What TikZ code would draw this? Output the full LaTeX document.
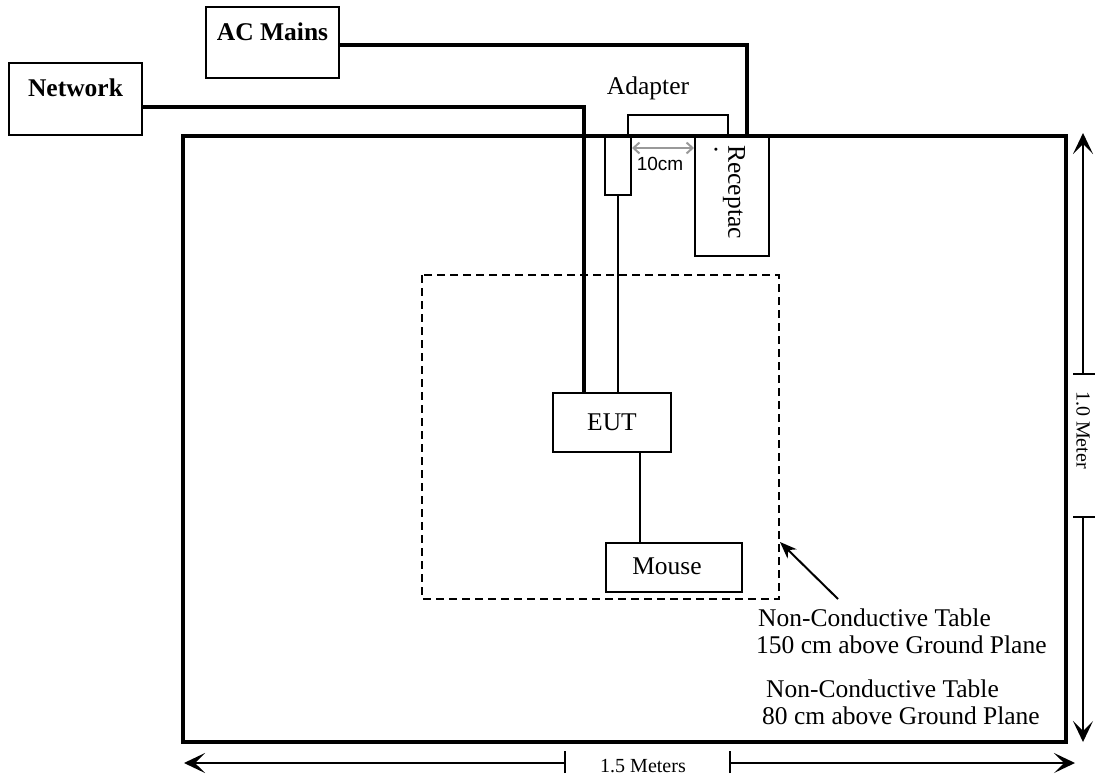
\documentclass[tikz,border=0pt]{standalone}
\usepackage{fontspec}
\setmainfont{Liberation Serif}
\newfontfamily\arialf{Liberation Sans}
\usetikzlibrary{arrows.meta}
\begin{document}
\begin{tikzpicture}[x=1pt,y=-1pt,
  every node/.style={font=\fontsize{25.5}{27}\selectfont},
  topbox/.style={draw,line width=2.6pt,inner sep=0pt,font=\fontsize{25.5}{28}\selectfont\bfseries},
  devbox/.style={draw,line width=2pt,inner sep=0pt},
  thickwire/.style={line width=3.4pt},
  thinwire/.style={line width=1.8pt},
  dimline/.style={line width=1.3pt},
  dimtip/.style={-{Stealth[length=21pt,width=20pt,inset=10pt]}},
  smalltxt/.style={font=\fontsize{20}{22}\selectfont}]
\useasboundingbox (0,0) rectangle (1097,781);
% table
\draw[line width=3.6pt] (183,136) rectangle (1066,742);
% top boxes
\node[topbox,minimum width=133pt,text height=33.5pt,text depth=38.5pt] (network) at (75.5,99) {Network};
\node[topbox,minimum width=133pt,text height=34pt,text depth=37pt] (acmains) at (272.5,42.5) {AC Mains};
% adapter
\node (adapterlbl) at (648,88) {Adapter};
\coordinate (adl) at (628,136);
\coordinate (adr) at (728,136);
\draw[line width=2pt] (adl) |- (728,115) -- (adr);
\node[devbox,minimum width=26pt,minimum height=59pt] (plug) at (618,165.5) {};
\node[devbox,minimum width=74pt,minimum height=120pt] (recept) at (732,196) {};
\node[rotate=-90] (recepttxt) at (734,192) {Receptac};
\node[rotate=-90] (dot) at (716,150) {.};
\draw[{Straight Barb[length=6pt,width=11pt]}-{Straight Barb[length=6pt,width=11pt]},line width=2pt,color=black!40] (plug.east |- 0,148) -- (recept.west |- 0,148);
\node[font=\arialf\fontsize{19}{21}\selectfont] (tencm) at (660,164) {10cm};
% EUT and mouse
\node[devbox,minimum width=118pt,minimum height=59pt] (eut) at (612,422.5) {EUT};
\node[devbox,minimum width=136pt,minimum height=49pt,text depth=3pt] (mouse) at (674,567.5) {\hspace*{-14pt}Mouse};
% dashed table
\draw[line width=2pt,dash pattern=on 8pt off 5pt] (422,275) rectangle (779,599);
% wires
\coordinate (acin) at (747,136);
\draw[thickwire] (acmains.east |- 0,45) -| (acin);
\draw[thickwire] (network.east |- 0,107) -| (eut.north -| 584,0);
\draw[thinwire] (plug.south) -- (eut.north -| plug.south);
\draw[thinwire] (eut.south -| 640,0) -- (mouse.north -| 640,0);
% table labels
\coordinate (arrtail) at (838,599);
\coordinate (arrtip) at (780,542);
\draw[line width=2pt,-{Stealth[length=17pt,width=13pt]}] (arrtail) -- (arrtip);
\node[align=left,anchor=west,inner sep=0pt] (tab150) at (756,631) {\hspace*{2pt}Non-Conductive Table\\150 cm above Ground Plane};
\node[align=left,anchor=west,inner sep=0pt] (tab80) at (762,702) {\hspace*{4pt}Non-Conductive Table\\80 cm above Ground Plane};
% vertical dimension
\coordinate (vtop) at (1083,133);
\coordinate (vt1) at (1083,374);
\coordinate (vt2) at (1083,517);
\coordinate (vbot) at (1083,742);
\draw[dimline,dimtip] (vt1) -- (vtop);
\draw[dimline,dimtip] (vt2) -- (vbot);
\draw[dimline] ([xshift=-10pt]vt1) -- ([xshift=12pt]vt1);
\draw[dimline] ([xshift=-10pt]vt2) -- ([xshift=12pt]vt2);
\node[smalltxt,rotate=-90] (vlbl) at (1083,430) {1.0 Meter};
% horizontal dimension
\coordinate (hl) at (184,763);
\coordinate (ht1) at (565,763);
\coordinate (ht2) at (730,763);
\coordinate (hr) at (1075,763);
\draw[dimline,dimtip] (ht1) -- (hl);
\draw[dimline,dimtip] (ht2) -- (hr);
\draw[dimline] ([yshift=-10pt]ht1) -- ([yshift=12pt]ht1);
\draw[dimline] ([yshift=-10pt]ht2) -- ([yshift=12pt]ht2);
\node[smalltxt] (hlbl) at (643,766) {1.5 Meters};
\end{tikzpicture}
\end{document}
